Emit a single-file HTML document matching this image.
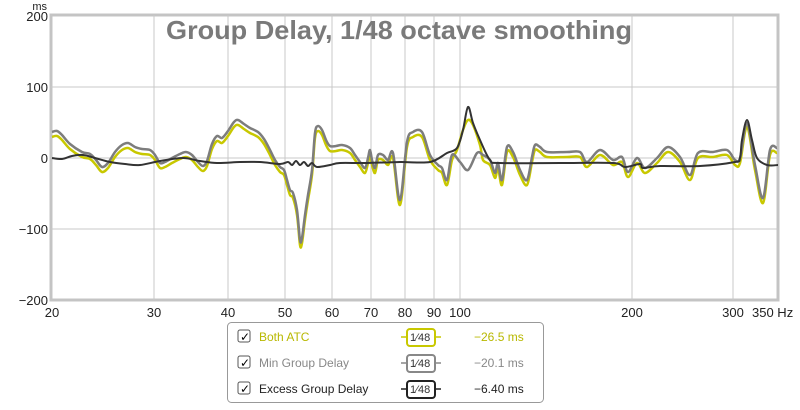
<!DOCTYPE html>
<html><head><meta charset="utf-8"><style>
body{margin:0;width:800px;height:405px;background:#fff;overflow:hidden;font-family:"Liberation Sans",sans-serif}
</style></head><body>
<svg id="s" width="800" height="405" xmlns="http://www.w3.org/2000/svg" font-family="Liberation Sans, sans-serif">
<rect x="51" y="15" width="727" height="285" fill="#fff" stroke="#c4c4c4" stroke-width="3"/>
<g stroke="#c8c8c8" stroke-width="1">
<line x1="51" y1="87" x2="778" y2="87"/><line x1="51" y1="158" x2="778" y2="158"/><line x1="51" y1="229" x2="778" y2="229"/>
<line x1="154" y1="15" x2="154" y2="300"/><line x1="228" y1="15" x2="228" y2="300"/><line x1="285" y1="15" x2="285" y2="300"/>
<line x1="332" y1="15" x2="332" y2="300"/><line x1="371" y1="15" x2="371" y2="300"/><line x1="405" y1="15" x2="405" y2="300"/>
<line x1="434" y1="15" x2="434" y2="300"/><line x1="460" y1="15" x2="460" y2="300"/><line x1="632" y1="15" x2="632" y2="300"/>
<line x1="733" y1="15" x2="733" y2="300"/>
</g>
<text x="399" y="39" text-anchor="middle" font-size="26" font-weight="bold" fill="#7a7a7a" textLength="466" lengthAdjust="spacingAndGlyphs">Group Delay, 1/48 octave smoothing</text>
<g font-size="13" fill="#222" text-anchor="end">
<text x="47" y="10" font-size="11">ms</text>
<text x="48" y="21">200</text><text x="48" y="92">100</text><text x="48" y="163">0</text>
<text x="48" y="234">−100</text><text x="48" y="305">−200</text>
</g>
<g font-size="13" fill="#222" text-anchor="middle">
<text x="52" y="317">20</text><text x="154" y="317">30</text><text x="228" y="317">40</text><text x="285" y="317">50</text>
<text x="332" y="317">60</text><text x="371" y="317">70</text><text x="405" y="317">80</text><text x="434" y="317">90</text>
<text x="460" y="317">100</text><text x="632" y="317">200</text><text x="733" y="317">300</text><text x="752" y="317" text-anchor="start">350 Hz</text>
</g>
<path id="y" fill="none" stroke="#c8c800" stroke-width="2.5" stroke-linejoin="round"/>
<path id="g" fill="none" stroke="#7d7d7d" stroke-width="2.5" stroke-linejoin="round"/>
<path id="k" fill="none" stroke="#333" stroke-width="2" stroke-linejoin="round"/>
<rect x="227.5" y="322.5" width="316" height="80" rx="4" fill="#fff" stroke="#999"/>
<g font-size="12">
<rect x="238" y="330" width="12" height="12" rx="2" fill="#fff" stroke="#555"/><text x="240" y="341" font-size="12">✓</text>
<rect x="238" y="356" width="12" height="12" rx="2" fill="#fff" stroke="#555"/><text x="240" y="367" font-size="12">✓</text>
<rect x="238" y="382" width="12" height="12" rx="2" fill="#fff" stroke="#555"/><text x="240" y="393" font-size="12">✓</text>
<text x="259" y="341" fill="#b8b800">Both ATC</text>
<text x="259" y="367" fill="#888">Min Group Delay</text>
<text x="259" y="393" fill="#222">Excess Group Delay</text>
<text x="474" y="341" fill="#b8b800">−26.5 ms</text>
<text x="474" y="367" fill="#888">−20.1 ms</text>
<text x="474" y="393" fill="#222">−6.40 ms</text>
</g>
<g font-size="11">
<line x1="401" y1="337" x2="441" y2="337" stroke="#c8c800" stroke-width="1.5"/><rect x="407" y="329" width="28" height="17" rx="3" fill="#fff" stroke="#c8c800" stroke-width="2"/><text x="410" y="341" fill="#333">1⁄48</text>
<line x1="401" y1="363" x2="441" y2="363" stroke="#888" stroke-width="1.5"/><rect x="407" y="355" width="28" height="17" rx="3" fill="#fff" stroke="#888" stroke-width="2"/><text x="410" y="367" fill="#333">1⁄48</text>
<line x1="401" y1="389" x2="441" y2="389" stroke="#222" stroke-width="1.5"/><rect x="407" y="381" width="28" height="17" rx="3" fill="#fff" stroke="#222" stroke-width="2"/><text x="410" y="393" fill="#333">1⁄48</text>
</g>
</svg>
<script>
var g=[[52,132],[57,131],[62,135],[70,144],[82,152],[90,154],[96,160],[102,167],[108,163],[115,152],[122,145],[128,143],[135,147],[142,149],[150,150],[155,155],[160,163],[165,162],[172,158],[180,154],[186,152],[192,155],[198,162],[203,166],[207,161],[212,144],[217,136],[222,138],[228,131],[234,122],[238,120],[244,124],[250,128],[258,132],[264,139],[270,150],[275,160],[280,167],[284,170],[287,180],[290,190],[293,193],[297,210],[300,240],[302,238],[305,215],[308,195],[312,170],[315,133],[318,126],[322,130],[326,140],[330,146],[336,146],[342,145],[350,148],[355,155],[360,162],[365,168],[368,158],[370,150],[372,160],[375,168],[378,155],[383,155],[388,160],[393,153],[400,200],[407,142],[413,132],[422,132],[430,155],[438,165],[442,168],[447,180],[452,155],[460,162],[468,170],[477,153],[483,155],[490,160],[495,173],[498,163],[502,180],[507,147],[513,152],[520,170],[527,180],[532,157],[535,145],[540,147],[547,152],[567,152],[580,152],[587,162],[600,150],[613,160],[622,157],[628,172],[637,158],[645,168],[657,158],[668,147],[680,157],[690,175],[698,153],[713,152],[727,150],[735,160],[740,158],[747,123],[755,165],[763,198],[770,150],[777,148]];
var k=[[52,158],[62,159],[72,156],[83,155],[95,158],[110,162],[125,164],[140,165],[160,161],[183,158],[200,161],[217,163],[240,162],[260,162],[280,164],[288,162],[292,165],[296,161],[300,165],[304,162],[308,166],[312,163],[317,167],[330,165],[340,163],[367,163],[400,162],[430,162],[447,153],[457,148],[463,130],[468,107],[473,123],[480,140],[490,160],[500,163],[560,163],[613,163],[625,167],[640,164],[643,168],[660,166],[700,166],[735,162],[740,158],[742,140],[747,120],[752,140],[757,158],[767,165],[778,165]];
var y=g.map(function(p){return [p[0],p[1]+5]});
y=y.filter(function(p){return !(p[0]>=457&&p[0]<=480)}).concat([[457,150],[463,130],[468,120],[473,125],[480,145]]).sort(function(a,b){return a[0]-b[0]});
y=y.map(function(p){if(p[0]>=744&&p[0]<=750)return [p[0],127];return p});
function cr(a){var d='M'+a[0][0]+','+a[0][1];for(var i=0;i<a.length-1;i++){var p0=a[i-1]||a[i],p1=a[i],p2=a[i+1],p3=a[i+2]||p2;
var c1x=p1[0]+(p2[0]-p0[0])/6,c1y=p1[1]+(p2[1]-p0[1])/6,c2x=p2[0]-(p3[0]-p1[0])/6,c2y=p2[1]-(p3[1]-p1[1])/6;
d+=' C'+c1x.toFixed(1)+','+c1y.toFixed(1)+' '+c2x.toFixed(1)+','+c2y.toFixed(1)+' '+p2[0]+','+p2[1];}return d}
document.getElementById('g').setAttribute('d',cr(g));
document.getElementById('y').setAttribute('d',cr(y));
document.getElementById('k').setAttribute('d',cr(k));
</script>
</body></html>
